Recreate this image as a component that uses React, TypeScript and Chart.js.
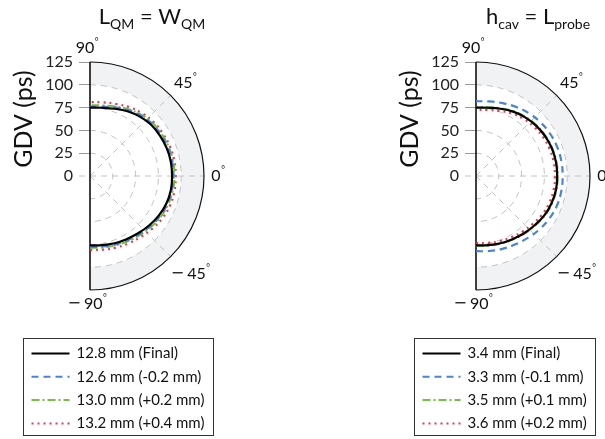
import React, { useEffect, useRef } from 'react';
import { Chart, registerables } from 'chart.js';

Chart.register(...registerables);

const FONT = 'Lato, "Open Sans", "DejaVu Sans", sans-serif';
const MINUS_FONT = '"DejaVu Sans", sans-serif';

// Polar angle (degrees) of each sample
const ANGLES_DEG = [-90, -80, -70, -60, -50, -40, -30, -20, -10, 0, 10, 20, 30, 40, 50, 60, 70, 80, 90];
const RADIAL_TICKS = [0, 25, 50, 75, 100, 125];
const GRID_RINGS = [25, 50, 75, 100];
const GRID_SPOKES = [45, 0, -45];
const ANGLE_TICKS = [90, 45, 0, -45, -90];
const R_MAX = 125;
const BAND_INNER = 100;
const Y_TITLE = 'GDV (ps)';

// Left panel: L_QM = W_QM
const LEFT_TITLE: [string, boolean][] = [['L', false], ['QM', true], [' = W', false], ['QM', true]];
const LEFT_LABELS = ['12.8 mm (Final)', '12.6 mm (-0.2 mm)', '13.0 mm (+0.2 mm)', '13.2 mm (+0.4 mm)'];
const LEFT_FINAL = [76, 77, 78.5, 80, 82, 84.5, 87, 89, 90, 90, 90, 89.5, 88.5, 87.5, 85, 82, 78.5, 76, 75];
const LEFT_MINUS = [78, 78.5, 80, 81.5, 83.5, 86, 88.5, 90, 91, 91.5, 91.5, 91, 90, 89, 86.5, 83.5, 80, 77, 76];
const LEFT_PLUS1 = [78.5, 79.5, 81, 82.5, 84.5, 87, 89.5, 91, 92, 92.5, 92.5, 92, 91, 90, 87.5, 84.5, 81, 78.5, 77.5];
const LEFT_PLUS2 = [81, 82, 83.5, 85, 87, 89.5, 92, 93.5, 94, 94, 94, 93.5, 92.5, 91.5, 89.5, 87, 84, 82, 81];

// Right panel: h_cav = L_probe
const RIGHT_TITLE: [string, boolean][] = [['h', false], ['cav', true], [' = L', false], ['probe', true]];
const RIGHT_LABELS = ['3.4 mm (Final)', '3.3 mm (-0.1 mm)', '3.5 mm (+0.1 mm)', '3.6 mm (+0.2 mm)'];
const RIGHT_FINAL = [76, 77, 78.5, 80, 82, 84, 86.5, 88, 89, 89, 89, 88.5, 87.5, 86, 84, 81.5, 78.5, 76, 75];
const RIGHT_MINUS = [82.5, 83.5, 85, 86.5, 88.5, 91, 93, 94.5, 95, 95, 95, 94.5, 93.5, 92, 90, 87.5, 85, 83, 82];
const RIGHT_PLUS1 = [76.5, 77.5, 79, 80.5, 82.5, 84.5, 87, 88.5, 89.5, 89.5, 89.5, 89, 88, 86.5, 84.5, 82, 79, 76.5, 75.5];
const RIGHT_PLUS2 = [73.5, 74.5, 76, 77.5, 79.5, 81.5, 84, 85.5, 86.5, 86.5, 86.5, 86, 85, 83.5, 81.5, 79, 76, 73.5, 72.5];

const STYLES = [
  { color: '#000000', width: 2.2, dash: [] as number[] },
  { color: '#4a84d8', width: 2.2, dash: [7, 5] },
  { color: '#74c043', width: 2.2, dash: [8, 3, 2, 3] },
  { color: '#ec3552', width: 2.2, dash: [2, 4] },
];

const CANVAS_W = 386;
const CANVAS_H = 439;

function drawDegLabel(ctx: CanvasRenderingContext2D, value: number, x: number, y: number) {
  const digits = String(Math.abs(value));
  ctx.fillStyle = '#111';
  ctx.textBaseline = 'middle';
  ctx.font = `16px ${FONT}`;
  const dw = ctx.measureText(digits).width;
  let mw = 0;
  const gap = 3;
  if (value < 0) {
    ctx.font = `bold 16px ${MINUS_FONT}`;
    mw = ctx.measureText('\u2212').width;
  }
  const total = (value < 0 ? mw + gap : 0) + dw;
  let sx = x - total / 2;
  ctx.textAlign = 'left';
  if (value < 0) {
    ctx.font = `16px ${MINUS_FONT}`;
    ctx.fillText('\u2212', sx, y);
    sx += mw + gap;
  }
  ctx.font = `16px ${FONT}`;
  ctx.fillText(digits, sx, y);
  sx += dw;
  ctx.font = `9px ${FONT}`;
  ctx.fillText('°', sx + 0.5, y - 6);
}

function Panel({ title, labels, series }: { title: [string, boolean][]; labels: string[]; series: number[][] }) {
  const ref = useRef<HTMLCanvasElement>(null);
  useEffect(() => {
    const canvas = ref.current;
    if (!canvas) return;
    const toXY = (vals: number[]) =>
      vals.map((r, i) => {
        const a = (ANGLES_DEG[i] * Math.PI) / 180;
        return { x: r * Math.cos(a), y: r * Math.sin(a) };
      });
    const datasets = series.map((vals, i) => ({
      label: labels[i],
      data: toXY(vals),
      showLine: true,
      borderColor: STYLES[i].color,
      backgroundColor: STYLES[i].color,
      borderWidth: STYLES[i].width,
      borderDash: STYLES[i].dash,
      pointRadius: 0,
      pointHoverRadius: 0,
      tension: 0.4,
      fill: false,
      order: i,
    }));

    const polarPlugin = {
      id: 'polarFrame',
      beforeDatasetsDraw(chart: any) {
        const { ctx, scales } = chart;
        const x = scales.x;
        const y = scales.y;
        const cx = x.getPixelForValue(0);
        const cy = y.getPixelForValue(0);
        const rp = (v: number) => x.getPixelForValue(v) - cx;
        const R = rp(R_MAX);
        ctx.save();
        ctx.beginPath();
        ctx.arc(cx, cy, R, -Math.PI / 2, Math.PI / 2);
        ctx.arc(cx, cy, rp(BAND_INNER), Math.PI / 2, -Math.PI / 2, true);
        ctx.closePath();
        ctx.fillStyle = '#f1f2f4';
        ctx.fill();

        ctx.setLineDash([6, 5]);
        ctx.strokeStyle = '#c2c2c2';
        ctx.lineWidth = 1;
        GRID_RINGS.forEach((v) => {
          ctx.beginPath();
          ctx.arc(cx, cy, rp(v), -Math.PI / 2, Math.PI / 2);
          ctx.stroke();
        });
        GRID_SPOKES.forEach((a) => {
          const t = (-a * Math.PI) / 180;
          const start = a === 0 ? -11 : 0;
          ctx.beginPath();
          ctx.moveTo(cx + start * Math.cos(t), cy + start * Math.sin(t));
          ctx.lineTo(cx + R * Math.cos(t), cy + R * Math.sin(t));
          ctx.stroke();
        });
        ctx.setLineDash([]);
        ctx.strokeStyle = '#111';
        ctx.lineWidth = 1.2;
        ctx.beginPath();
        ctx.arc(cx, cy, R, -Math.PI / 2, Math.PI / 2);
        ctx.stroke();
        ctx.lineWidth = 1.6;
        ctx.beginPath();
        ctx.moveTo(cx, cy - R);
        ctx.lineTo(cx, cy + R);
        ctx.stroke();
        ctx.restore();
      },
      afterDraw(chart: any) {
        const { ctx, scales } = chart;
        const x = scales.x;
        const y = scales.y;
        const cx = x.getPixelForValue(0);
        const cy = y.getPixelForValue(0);
        const R = x.getPixelForValue(R_MAX) - cx;
        ctx.save();
        // angle labels
        ANGLE_TICKS.forEach((a) => {
          let px: number;
          let py: number;
          if (Math.abs(a) === 90) {
            px = cx - 5;
            py = cy - Math.sign(a) * (R + 14);
          } else {
            const d = a === 0 ? 12 : a > 0 ? 18 : 25;
            const t = (a * Math.PI) / 180;
            px = cx + (R + d) * Math.cos(t);
            py = cy - (R + d) * Math.sin(t);
          }
          drawDegLabel(ctx, a, px, py);
        });
        // y title
        ctx.save();
        ctx.translate(32, (y.getPixelForValue(R_MAX) + cy) / 2);
        ctx.rotate(-Math.PI / 2);
        ctx.font = `25px ${FONT}`;
        ctx.fillStyle = '#111';
        ctx.textAlign = 'center';
        ctx.textBaseline = 'alphabetic';
        ctx.fillText(Y_TITLE, 0, 0);
        ctx.restore();
        // panel title
        let total = 0;
        title.forEach(([s, sub]) => {
          ctx.font = `${sub ? 14 : 22}px ${FONT}`;
          total += ctx.measureText(s).width;
        });
        let tx = cx + 62 - total / 2;
        ctx.fillStyle = '#111';
        ctx.textAlign = 'left';
        ctx.textBaseline = 'alphabetic';
        title.forEach(([s, sub]) => {
          ctx.font = `${sub ? 14 : 22}px ${FONT}`;
          ctx.fillText(s, tx, sub ? 28.5 : 23.5);
          tx += ctx.measureText(s).width;
        });
        // legend
        ctx.font = `15px ${FONT}`;
        let maxW = 0;
        labels.forEach((l) => (maxW = Math.max(maxW, ctx.measureText(l).width)));
        const boxW = Math.round(53 + maxW + 9);
        const bx = Math.round(cx + 28 - boxW / 2) + 0.5;
        const by = 338.5;
        const boxH = 97;
        ctx.fillStyle = '#fff';
        ctx.fillRect(bx, by, boxW, boxH);
        ctx.strokeStyle = '#333';
        ctx.lineWidth = 1;
        ctx.strokeRect(bx, by, boxW, boxH);
        labels.forEach((l, i) => {
          const ly = by + 15 + i * 23.3;
          ctx.save();
          ctx.strokeStyle = STYLES[i].color;
          ctx.lineWidth = 2;
          ctx.setLineDash(STYLES[i].dash);
          ctx.beginPath();
          ctx.moveTo(bx + 8, ly);
          ctx.lineTo(bx + 46, ly);
          ctx.stroke();
          ctx.restore();
          ctx.fillStyle = '#111';
          ctx.textAlign = 'left';
          ctx.textBaseline = 'middle';
          ctx.fillText(l, bx + 53, ly);
        });
        ctx.restore();
      },
    };

    const chart = new Chart(canvas, {
      type: 'scatter',
      data: { datasets: datasets as any },
      options: {
        responsive: false,
        animation: false,
        events: [],
        layout: { padding: { left: 0, right: 182, top: 62, bottom: 149 } },
        plugins: { legend: { display: false }, tooltip: { enabled: false }, title: { display: false } },
        scales: {
          x: { type: 'linear', min: 0, max: R_MAX, display: false },
          y: {
            type: 'linear',
            position: 'left',
            min: -R_MAX,
            max: R_MAX,
            afterBuildTicks: (s: any) => {
              s.ticks = RADIAL_TICKS.map((v) => ({ value: v }));
            },
            afterFit: (s: any) => {
              s.width = 90;
            },
            ticks: {
              font: { family: FONT, size: 16 },
              color: '#222',
              padding: 6,
              autoSkip: false,
              callback: (v: any) => String(v),
            },
            grid: {
              drawOnChartArea: false,
              tickLength: 11,
              color: (c: any) => (c.tick && c.tick.value === 0 ? 'rgba(0,0,0,0)' : '#9a9a9a'),
            },
            border: { display: false },
          },
        },
      },
      plugins: [polarPlugin],
    });
    return () => chart.destroy();
  }, []);
  return <canvas ref={ref} width={CANVAS_W} height={CANVAS_H} style={{ display: 'block', width: CANVAS_W, height: CANVAS_H }} />;
}

export default function App() {
  return (
    <div style={{ position: 'fixed', left: 0, top: 0, width: 605, height: 439, overflow: 'hidden', background: '#fff' }}>
      <div style={{ position: 'absolute', left: 0, top: 0 }}>
        <Panel title={LEFT_TITLE} labels={LEFT_LABELS} series={[LEFT_FINAL, LEFT_MINUS, LEFT_PLUS1, LEFT_PLUS2]} />
      </div>
      <div style={{ position: 'absolute', left: 386, top: 0 }}>
        <Panel title={RIGHT_TITLE} labels={RIGHT_LABELS} series={[RIGHT_FINAL, RIGHT_MINUS, RIGHT_PLUS1, RIGHT_PLUS2]} />
      </div>
    </div>
  );
}
